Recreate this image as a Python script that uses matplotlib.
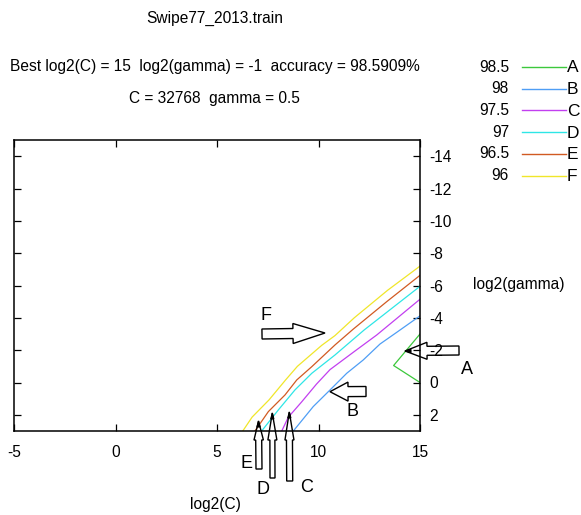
#!/usr/bin/env python
"""
Contour plot of a libsvm grid search (log2(C) vs log2(gamma)),
gnuplot look, with the hand drawn letter / arrow marks on top.
"""

import numpy as np
import matplotlib
matplotlib.use("Agg")
import matplotlib.pyplot as plt
from matplotlib.patches import Polygon
from matplotlib.lines import Line2D

W, H = 581, 515

title = "Swipe77_2013.train"
best_line = "Best log2(C) = 15  log2(gamma) = -1  accuracy = 98.5909%"
best_line2 = "C = 32768  gamma = 0.5"

levels = ["98.5", "98", "97.5", "97", "96.5", "96"]
letters = ["A", "B", "C", "D", "E", "F"]
colors = ["#3cc83c", "#4f9ef5", "#c23ff0", "#2ee6e6", "#d15a22", "#f0e62a"]

# contour lines (log2(C), log2(gamma))
c_985 = [15.0, 13.7, 15.0]
g_985 = [-3.0, -1.05, 0.0]
c_98 = [8.76, 9.74, 10.57, 11.39, 12.2, 13.03, 13.85, 15.0]
g_98 = [3.0, 1.49, 0.46, -0.57, -1.39, -2.38, -3.1, -4.12]
c_975 = [8.19, 8.51, 9.17, 9.9, 10.57, 11.8, 12.87, 15.0]
g_975 = [3.0, 2.15, 1.2, 0.1, -0.8, -1.95, -2.94, -5.15]
c_97 = [7.2, 8.02, 8.84, 9.67, 10.81, 12.25, 15.0]
g_97 = [3.0, 1.7, 0.46, -0.57, -1.7, -3.25, -5.95]
c_965 = [6.87, 7.53, 8.35, 8.93, 9.67, 10.81, 11.71, 13.36, 15.0]
g_965 = [3.0, 1.8, 0.77, -0.16, -0.98, -2.32, -3.3, -5.0, -6.63]
c_96 = [6.27, 6.73, 7.56, 8.38, 8.96, 10.16, 10.81, 11.76, 13.4, 15.0]
g_96 = [3.0, 2.14, 1.08, -0.16, -1.0, -2.3, -2.9, -4.0, -5.7, -7.2]

xticks = [-5, 0, 5, 10, 15]
yticks = [-14, -12, -10, -8, -6, -4, -2, 0, 2]

FS = 11.2


def fx(x):
    return x / float(W)


def fy(y):
    return 1.0 - y / float(H)


def block_arrow(fig, tail, tip, w, hw, hl, dark_tip=False):
    # arrow shape worked out in pixels, then put in figure fractions
    t0 = np.array(tail, float)
    t1 = np.array(tip, float)
    d = (t1 - t0) / np.hypot(*(t1 - t0))
    n = np.array([-d[1], d[0]])
    base = t1 - d * hl
    pts = [t0 + n * w, base + n * w, base + n * hw, t1,
           base - n * hw, base - n * w, t0 - n * w]
    pts = [(fx(p[0]), fy(p[1])) for p in pts]
    fig.add_artist(Polygon(pts, closed=True, fc="none", ec="black",
                           lw=1.0, transform=fig.transFigure, zorder=5))
    if dark_tip:
        b2 = t1 - d * 6
        tri = [t1, b2 + n * 1.6, b2 - n * 1.6]
        tri = [(fx(p[0]), fy(p[1])) for p in tri]
        fig.add_artist(Polygon(tri, closed=True, fc="black", ec="black",
                               lw=0.8, transform=fig.transFigure, zorder=6))


def main():

    plt.rcParams["font.family"] = ["Liberation Sans", "DejaVu Sans"]
    plt.rcParams["axes.unicode_minus"] = False
    fig = plt.figure(figsize=(W / 100.0, H / 100.0), dpi=100)
    ax = fig.add_axes([fx(14), fy(431), (420 - 14) / float(W),
                       (431 - 140) / float(H)])

    lines = [(c_985, g_985), (c_98, g_98), (c_975, g_975),
             (c_97, g_97), (c_965, g_965), (c_96, g_96)]
    for (cc, gg), col in zip(lines, colors):
        ax.plot(cc, gg, color=col, lw=0.9)

    ax.set_xlim(-5, 15)
    ax.set_ylim(3, -15)
    ax.set_xticks(xticks)
    ax.set_yticks(yticks)
    ax.yaxis.tick_right()
    ax.tick_params(direction="in", length=5, width=0.9, top=True,
                   bottom=True, left=True, right=True, labelleft=False,
                   labelright=True, labelsize=FS)
    ax.tick_params(axis="x", pad=10)
    ax.tick_params(axis="y", pad=7)
    for s in ax.spines.values():
        s.set_linewidth(1.1)

    fig.text(fx(215), fy(18), title, ha="center", va="center", fontsize=FS)
    fig.text(fx(215), fy(67), best_line, ha="center", va="center",
             fontsize=FS)
    fig.text(fx(214), fy(98), best_line2, ha="center", va="center",
             fontsize=FS)
    fig.text(fx(473), fy(285), "log2(gamma)", ha="left", va="center",
             fontsize=FS)
    fig.text(fx(215), fy(505), "log2(C)", ha="center", va="center",
             fontsize=FS)

    # legend, done by hand like gnuplot: value, line, then the letter
    for i, (lev, col, let) in enumerate(zip(levels, colors, letters)):
        y = 67 + i * 21.7
        fig.text(fx(509), fy(y), lev, ha="right", va="center", fontsize=FS)
        fig.add_artist(Line2D([fx(522), fx(566)], [fy(y), fy(y)],
                              color=col, lw=1.0,
                              transform=fig.transFigure))
        fig.text(fx(567), fy(y + 1), let, ha="left", va="center",
                 fontsize=12.5)

    # hand drawn marks
    block_arrow(fig, (262, 334), (325, 333), 5, 10, 32)
    block_arrow(fig, (459, 350.5), (405, 351), 4.5, 8.5, 22, dark_tip=True)
    block_arrow(fig, (366, 391.5), (330, 391.7), 5, 9.5, 18)
    block_arrow(fig, (259, 469), (258.5, 421), 3, 4.7, 19, dark_tip=True)
    block_arrow(fig, (272.5, 478), (272.3, 413), 2.5, 4.5, 27, dark_tip=True)
    block_arrow(fig, (289.7, 481), (289.3, 412), 3, 4.5, 28, dark_tip=True)

    marks = [("F", 266, 316), ("A", 467, 370), ("B", 353, 411),
             ("E", 247, 463), ("D", 263, 490), ("C", 307, 487)]
    for let, x, y in marks:
        fig.text(fx(x), fy(y), let, ha="center", va="center", fontsize=13)

    fig.savefig("out.png", dpi=100)


if __name__ == "__main__":

    main()
